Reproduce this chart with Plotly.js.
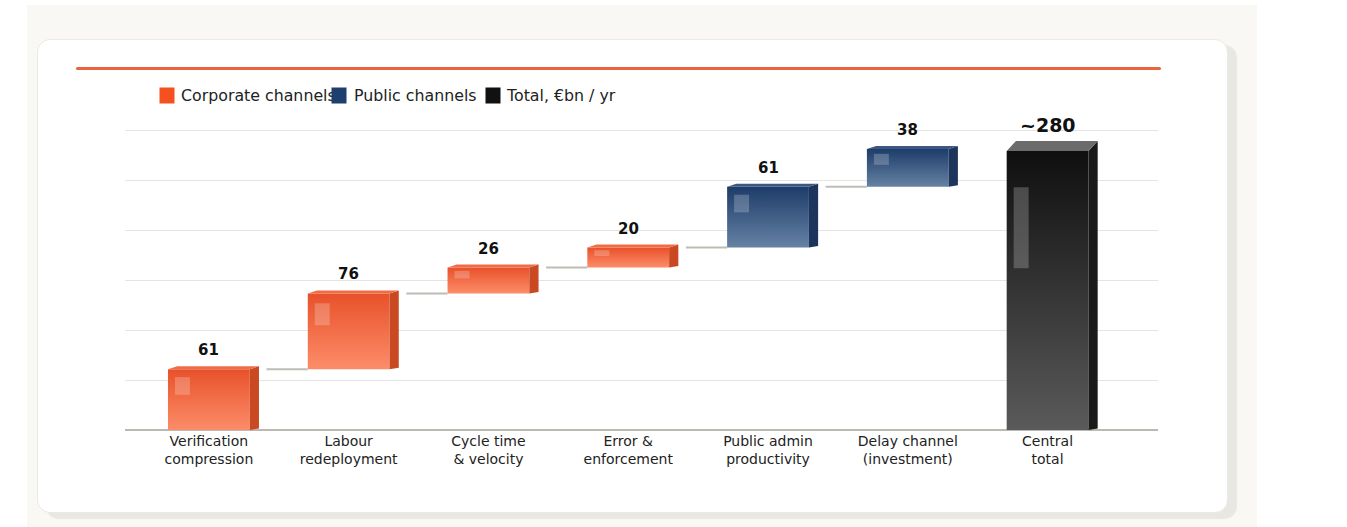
<!DOCTYPE html>
<html>
<head>
<meta charset="utf-8">
<script src="https://cdn.plot.ly/plotly-3.0.1.min.js"></script>
<style>
  html, body { margin:0; padding:0; background:#ffffff; width:1347px; height:527px; overflow:hidden; }
  #page { position:absolute; left:27px; top:5px; width:1230px; height:522px; background:#f9f8f4; }
  #card { position:absolute; left:37px; top:39px; width:1189px; height:472px; background:#ffffff;
          border:1px solid #ebe9e4; border-radius:13px; box-shadow:9px 6px 1px #e8e7e2; }
  #topline { position:absolute; left:76px; top:67px; width:1085px; height:3px; background:#e8653e; border-radius:2px; }
  #chart { position:absolute; left:0; top:0; width:1347px; height:527px; }
</style>
</head>
<body>
<div id="page"></div>
<div id="card"></div>
<div id="topline"></div>
<div id="chart"></div>
<script>
// ---- data ----
const categories = ['Verification<br>compression', 'Labour<br>redeployment', 'Cycle time<br>& velocity',
                    'Error &<br>enforcement', 'Public admin<br>productivity', 'Delay channel<br>(investment)', 'Central<br>total'];
const increments = [61, 76, 26, 20, 61, 38];
const groups = ['corporate', 'corporate', 'corporate', 'corporate', 'public', 'public'];
const totalValue = 280;
const valueLabels = ['61', '76', '26', '20', '61', '38', '~280'];
const legendNames = ['Corporate channels', 'Public channels', 'Total, €bn / yr'];

// ---- styles ----
const FONT = 'DejaVu Sans';
const style = {
  corporate: { base:'#f0683f', side:'#c94a22', top:'#ef6c45', g1:'#e8512a', g2:'#fc8d69', legend:'#f4511e' },
  public:    { base:'#3a5680', side:'#1b355d', top:'#3b5882', g1:'#1d3c69', g2:'#6682a4', legend:'#1e3f6e' },
  total:     { base:'#333333', side:'#1a1a1a', top:'#6b6b6b', g1:'#0f0f0f', g2:'#5a5a5a', legend:'#111111' }
};
const barWidth = 0.585;
const depthX = 0.066;

// cumulative bases
const bases = [];
let run = 0;
increments.forEach(v => { bases.push(run); run += v; });

const xIdx = categories.map((c, i) => i);

function traceFor(group) {
  const xs = [], ys = [], bs = [];
  increments.forEach((v, i) => { if (groups[i] === group) { xs.push(i); ys.push(v); bs.push(bases[i]); } });
  return { type:'bar', x:xs, y:ys, base:bs, width:barWidth, marker:{ color:style[group].base, line:{width:0} },
           hoverinfo:'skip', showlegend:false, name:group };
}
const traces = [
  traceFor('corporate'),
  traceFor('public'),
  { type:'bar', x:[increments.length], y:[totalValue], base:[0], width:barWidth,
    marker:{ color:style.total.base, line:{width:0} }, hoverinfo:'skip', showlegend:false, name:'total' }
];

// ---- 3D faces, highlights, connectors (computed from data) ----
const shapes = [];
const allBars = increments.map((v, i) => ({ x:i, b:bases[i], t:bases[i] + v, g:groups[i], dy:3 }));
allBars.push({ x:increments.length, b:0, t:totalValue, g:'total', dy:10 });

allBars.forEach(bar => {
  const xl = bar.x - barWidth / 2, xr = bar.x + barWidth / 2, s = style[bar.g];
  // side face
  shapes.push({ type:'path', xref:'x', yref:'y', layer:'above', line:{width:0}, fillcolor:s.side,
    path:`M ${xr},${bar.b} L ${xr + depthX},${bar.b + Math.min(bar.dy, 1.5)} L ${xr + depthX},${bar.t + bar.dy} L ${xr},${bar.t} Z` });
  // top face
  shapes.push({ type:'path', xref:'x', yref:'y', layer:'above', line:{width:0}, fillcolor:s.top,
    path:`M ${xl},${bar.t} L ${xl + depthX},${bar.t + bar.dy} L ${xr + depthX},${bar.t + bar.dy} L ${xr},${bar.t} Z` });
  // highlight
  const h = bar.t - bar.b;
  shapes.push({ type:'rect', xref:'x', yref:'y', layer:'above', line:{width:0}, fillcolor:'rgba(255,255,255,0.22)',
    x0:xl + 0.05, x1:xl + 0.157, y1:bar.t - 0.13 * h, y0:bar.t - 0.42 * h });
});

// connectors between consecutive increments
for (let i = 0; i < increments.length - 1; i++) {
  const lvl = bases[i] + increments[i];
  shapes.push({ type:'line', xref:'x', yref:'y', layer:'above', line:{color:'#bfbcb5', width:2},
    x0:i + barWidth / 2 + 0.12, x1:i + 1 - barWidth / 2, y0:lvl, y1:lvl });
}

// ---- annotations ----
const annotations = allBars.map((bar, i) => ({
  x:bar.x, y:bar.t, xref:'x', yref:'y', text:'<b>' + valueLabels[i] + '</b>', showarrow:false,
  yanchor:'bottom', yshift: bar.g === 'total' ? 13 : 8,
  font:{ family:FONT, size: bar.g === 'total' ? 19 : 15, color:'#111111' }
}));

// legend (pixel positions converted to paper)
const PL = 125, PW = 1033, PB = 430, PH = 304;
const px = v => (v - PL) / PW, py = v => (PB - v) / PH;
const legendText = [179, 352, 504];
const legendBox = [159, 331, 485];
const legendColors = [style.corporate.legend, style.public.legend, style.total.legend];
legendNames.forEach((n, i) => {
  annotations.push({ xref:'paper', yref:'paper', x:px(legendText[i]), y:py(95.5), xanchor:'left', yanchor:'middle',
    text:n, showarrow:false, font:{ family:FONT, size:15.8, color:'#222222' } });
});
legendNames.forEach((n, i) => {
  annotations.push({ xref:'paper', yref:'paper', x:px(legendBox[i]), y:py(95.5), xanchor:'left', yanchor:'middle',
    text:' ', width:14, height:15, borderpad:0, bgcolor:legendColors[i], showarrow:false, font:{ family:FONT, size:10 } });
});

const layout = {
  width:1347, height:527,
  margin:{ l:125, r:189, t:126, b:97 },
  paper_bgcolor:'rgba(0,0,0,0)', plot_bgcolor:'rgba(0,0,0,0)',
  barmode:'overlay', showlegend:false,
  font:{ family:FONT },
  xaxis:{ range:[-0.6, 6.79], tickmode:'array', tickvals:xIdx, ticktext:categories, showgrid:false,
          zeroline:false, showline:false, ticks:'', ticklabelstandoff:1,
          tickfont:{ family:FONT, size:14, color:'#222222' }, fixedrange:true },
  yaxis:{ range:[0, 305], tick0:0, dtick:50, showticklabels:false, gridcolor:'#e4e4e4', gridwidth:1,
          zeroline:true, zerolinecolor:'#bcb9b2', zerolinewidth:2, showline:false, fixedrange:true },
  shapes:shapes, annotations:annotations
};

Plotly.newPlot('chart', traces, layout, { staticPlot:true, displayModeBar:false }).then(gd => {
  const svg = gd.querySelector('.main-svg');
  const NS = 'http://www.w3.org/2000/svg';
  let defs = svg.querySelector('defs');
  if (!defs) { defs = document.createElementNS(NS, 'defs'); svg.insertBefore(defs, svg.firstChild); }
  const ids = ['corporate', 'public', 'total'];
  ids.forEach(k => {
    const lg = document.createElementNS(NS, 'linearGradient');
    lg.setAttribute('id', 'grad-' + k);
    lg.setAttribute('x1', '0'); lg.setAttribute('y1', '0'); lg.setAttribute('x2', '0'); lg.setAttribute('y2', '1');
    [[0, style[k].g1], [1, style[k].g2]].forEach(([o, c]) => {
      const st = document.createElementNS(NS, 'stop');
      st.setAttribute('offset', o); st.setAttribute('stop-color', c);
      lg.appendChild(st);
    });
    defs.appendChild(lg);
  });
  gd.querySelectorAll('.barlayer .trace').forEach((tr, i) => {
    tr.querySelectorAll('path').forEach(p => { p.style.fill = 'url(#grad-' + ids[i] + ')'; });
  });
});
</script>
</body>
</html>
